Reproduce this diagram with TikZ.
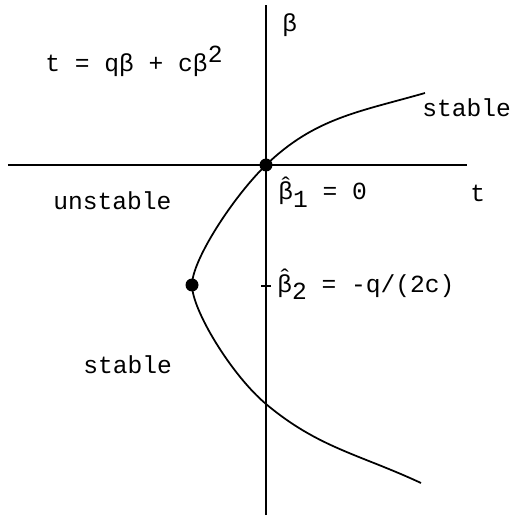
\documentclass[tikz,border=0pt]{standalone}
\usepackage{fontspec}
\setmonofont{Liberation Mono}
\newcommand{\bhat}{\ooalign{β\cr\hidewidth\raisebox{0.45ex}{ˆ}\hidewidth\cr}}
\begin{document}
\begin{tikzpicture}[
   x=1cm,y=1cm,
   eqpt/.style={circle,fill=black,inner sep=0pt,minimum size=0.26cm},
   axis/.style={line width=1pt},
   branch/.style={line width=1pt},
   every node/.style={font=\ttfamily\fontsize{14}{16}\selectfont,inner sep=0pt}
 ]
  \useasboundingbox (-5.32,-7.04) rectangle (4.98,3.30);
  \coordinate (tl) at (-5.16,0);
  \coordinate (tr) at (4.02,0);
  \coordinate (bb) at (0,-7.0);
  \coordinate (bt) at (0,3.2);
  \coordinate (top) at (3.18,1.44);
  \coordinate (cross) at (0,-4.78);
  \coordinate (bot) at (3.10,-6.36);
  \draw[axis] (tl)--(tr);
  \draw[axis] (bb)--(bt);

  \node[eqpt] (b1) at (0,0) {};
  \node[eqpt] (b2) at (-1.48,-2.40) {};
  \draw[branch] (top) to[out=196,in=44] (b1.center)
    .. controls (-0.65,-0.63) and (-1.48,-1.90) .. (b2.center)
    .. controls (-1.48,-2.90) and (-0.69,-4.20) .. (cross)
    to[out=-40,in=155] (bot);
  \draw[axis] (-0.1,-2.42)--(0.1,-2.42);

  \node[anchor=base west] (law) at (-4.42,1.86) {t = qβ + cβ\raisebox{0.7ex}{2}};
  \node[anchor=base west] (blab) at (0.32,2.66) {β};
  \node[anchor=base west] (tlab) at (4.08,-0.74) {t};
  \node[anchor=base west] (s1) at (3.12,0.96) {stable};
  \node[anchor=base west] (u1) at (-4.26,-0.90) {unstable};
  \node[anchor=base west] (s2) at (-3.66,-4.16) {stable};
  \node[anchor=base west] (r1) at (0.24,-0.70) {\bhat\raisebox{-0.6ex}{1} = 0};
  \node[anchor=base west] (r2) at (0.22,-2.54) {\bhat\raisebox{-0.6ex}{2} = -q/(2c)};
 \end{tikzpicture}
\end{document}
